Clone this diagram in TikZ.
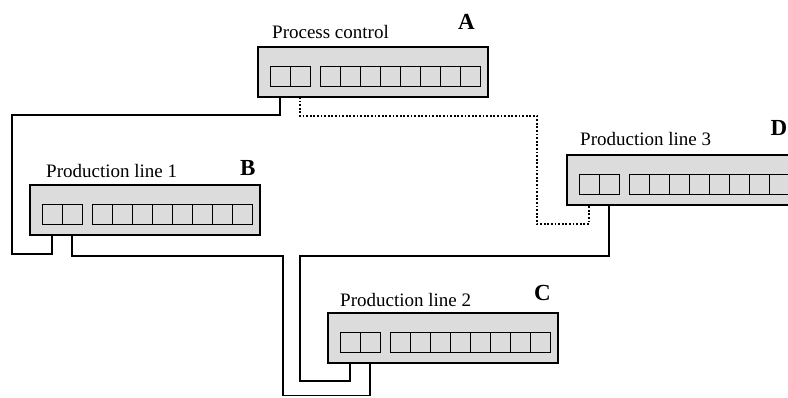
\documentclass[tikz,border=0pt]{standalone}
\usepackage{fontspec}
\setmainfont{Liberation Serif}
\definecolor{hubfill}{RGB}{220,220,220}
\tikzset{
  hub/.style={draw, line width=2.4pt, fill=hubfill, rectangle, inner sep=0pt, outer sep=0pt,
              minimum width=230pt, minimum height=50pt},
  port/.style={draw, line width=0.9pt, fill=hubfill, rectangle, inner sep=0pt, outer sep=0pt,
               minimum width=20pt, minimum height=20pt},
  lbl/.style={inner sep=0pt, anchor=base west, font=\fontsize{19}{22}\selectfont},
  tag/.style={inner sep=0pt, anchor=base west, font=\fontsize{23}{26}\selectfont\bfseries},
  wire/.style={draw, line width=1.3pt},
  dotwire/.style={draw, line width=1.8pt, dash pattern=on 1.8pt off 1.8pt}
}
% a hub: frame plus two uplink ports and eight station ports
\newcommand\hubbox[3]{%
  \node[hub, anchor=north west] (#1) at (#2,#3) {};
  \foreach \i/\dx in {1/12,2/32,3/62,4/82,5/102,6/122,7/142,8/162,9/182,10/202}
    \node[port, anchor=north west] (#1\i) at ({#2+\dx},{#3+19}) {};
}
\begin{document}
\begin{tikzpicture}[x=1pt,y=-1pt]
  \clip (0,0) rectangle (788,397);
  \fill[white] (0,0) rectangle (788,397);

  \hubbox{A}{258}{47}
  \hubbox{B}{30}{185}
  \hubbox{C}{328}{313}
  \hubbox{D}{567}{155}

  \node[lbl] (Alab) at (272,38) {Process control};
  \node[lbl] (Blab) at (46,177) {Production line 1};
  \node[lbl] (Clab) at (340,306) {Production line 2};
  \node[lbl] (Dlab) at (580,145) {Production line 3};

  \node[tag] (Atag) at (458,29) {A};
  \node[tag] (Btag) at (240,175) {B};
  \node[tag] (Ctag) at (534,300) {C};
  \node[tag] (Dtag) at (770.5,135) {D};

  % uplinks between the hubs
  \draw[wire] (A1 |- A.south) |- (12,115) |- (B1 |- 0,254) -- (B1 |- B.south);
  \draw[dotwire] (A2 |- A.south) |- (537,116) |- (D1 |- 0,224) -- (D1 |- D.south);
  \draw[wire] (B2 |- B.south) |- (283,256) |- (C2 |- 0,395.5) -- (C2 |- C.south);
  \draw[wire] (D2 |- D.south) |- (300,256) |- (C1 |- 0,381) -- (C1 |- C.south);
\end{tikzpicture}
\end{document}
